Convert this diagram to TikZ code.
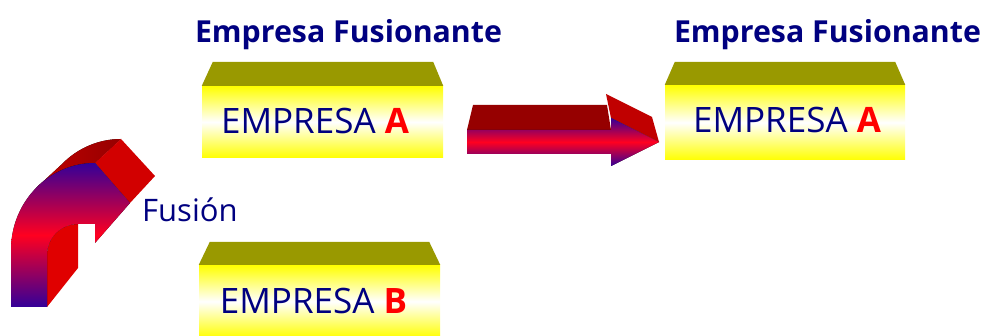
\documentclass[tikz,border=0pt]{standalone}
\usepackage{fontspec}
\setmainfont{Open Sans}
\definecolor{navy}{RGB}{0,0,128}
\definecolor{oliveT}{RGB}{153,153,0}
\definecolor{purp}{RGB}{51,0,153}
\definecolor{bred}{RGB}{255,0,32}
\definecolor{darkR}{RGB}{150,0,0}
\definecolor{sideR}{RGB}{210,0,0}
\definecolor{innerR}{RGB}{224,0,0}
\definecolor{headR}{RGB}{192,0,0}
\tikzset{
  boxfront/.style={inner sep=0pt, top color=yellow, bottom color=yellow, middle color=white},
  boxtop/.style={fill=oliveT},
  boxtext/.style={text=navy, font=\fontsize{35}{40}\selectfont, inner sep=0pt},
  title/.style={text=navy, font=\fontsize{30.3}{35}\selectfont\bfseries, inner sep=0pt, anchor=base},
  facegrad/.style={top color=purp, bottom color=purp, middle color=bred},
}
\begin{document}
\begin{tikzpicture}[x=1pt,y=-1pt]
\clip (0,0) rectangle (985,336);
\fill[white] (0,0) rectangle (985,336);

% titles
\node[title] (t1) at (348.5,43) {Empresa Fusionante};
\node[title] (t2) at (827.5,43) {Empresa Fusionante};

% box A (left)
\node[boxfront, minimum width=241pt, minimum height=72pt] (ba) at (322.5,122) {};
\fill[boxtop] (ba.north west) -- ([shift={(11,-24)}]ba.north west) -- ([shift={(-10,-24)}]ba.north east) -- (ba.north east) -- cycle;
\node[boxtext] (ta) at (315,121) {EMPRESA \textcolor{red}{\bfseries A}};

% box B
\node[boxfront, minimum width=241pt, minimum height=73pt] (bb) at (319.5,301.5) {};
\fill[boxtop] (bb.north west) -- ([shift={(11,-23)}]bb.north west) -- ([shift={(-11,-23)}]bb.north east) -- (bb.north east) -- cycle;
\node[boxtext] (tb) at (313.5,301) {EMPRESA \textcolor{red}{\bfseries B}};

% box A (right)
\node[boxfront, minimum width=240pt, minimum height=75pt] (bc) at (785,122.5) {};
\fill[boxtop] (bc.north west) -- ([shift={(10,-23)}]bc.north west) -- ([shift={(-10,-23)}]bc.north east) -- (bc.north east) -- cycle;
\node[boxtext] (tc) at (787,120.5) {EMPRESA \textcolor{red}{\bfseries A}};

% straight 3D arrow
\fill[darkR] (467,130) -- (473,105) -- (607,105) -- (611,130) -- cycle;
\fill[headR] (606,94) -- (652,117) -- (659,142) -- (611,118) -- cycle;
\fill[facegrad] (467,130) -- (611,130) -- (611,118) -- (659,142) -- (611,166) -- (611,154) -- (467,154) -- cycle;

% curved 3D arrow
\fill[left color=headR, right color=darkR] (35.6,188.5) arc[start angle=225,end angle=270,x radius=84,y radius=87] -- (121,139) arc[start angle=270,end angle=225,x radius=84,y radius=87] -- cycle;
\fill[sideR] (95,163) -- (121,139) -- (155,176) -- (130,203) -- cycle;
\fill[innerR] (47,307) -- (47,255) arc[start angle=180,end angle=270,radius=31] -- (78,268) -- cycle;
\fill[facegrad] (11,307) -- (11,250) arc[start angle=180,end angle=270,x radius=84,y radius=87] -- (130,203) -- (95,243) -- (95,224) -- (78,224) arc[start angle=270,end angle=180,radius=31] -- (47,307) -- cycle;

\node[text=navy, font=\fontsize{31}{36}\selectfont, inner sep=0pt, anchor=base west] (fu) at (142,222) {Fusión};
\end{tikzpicture}
\end{document}
